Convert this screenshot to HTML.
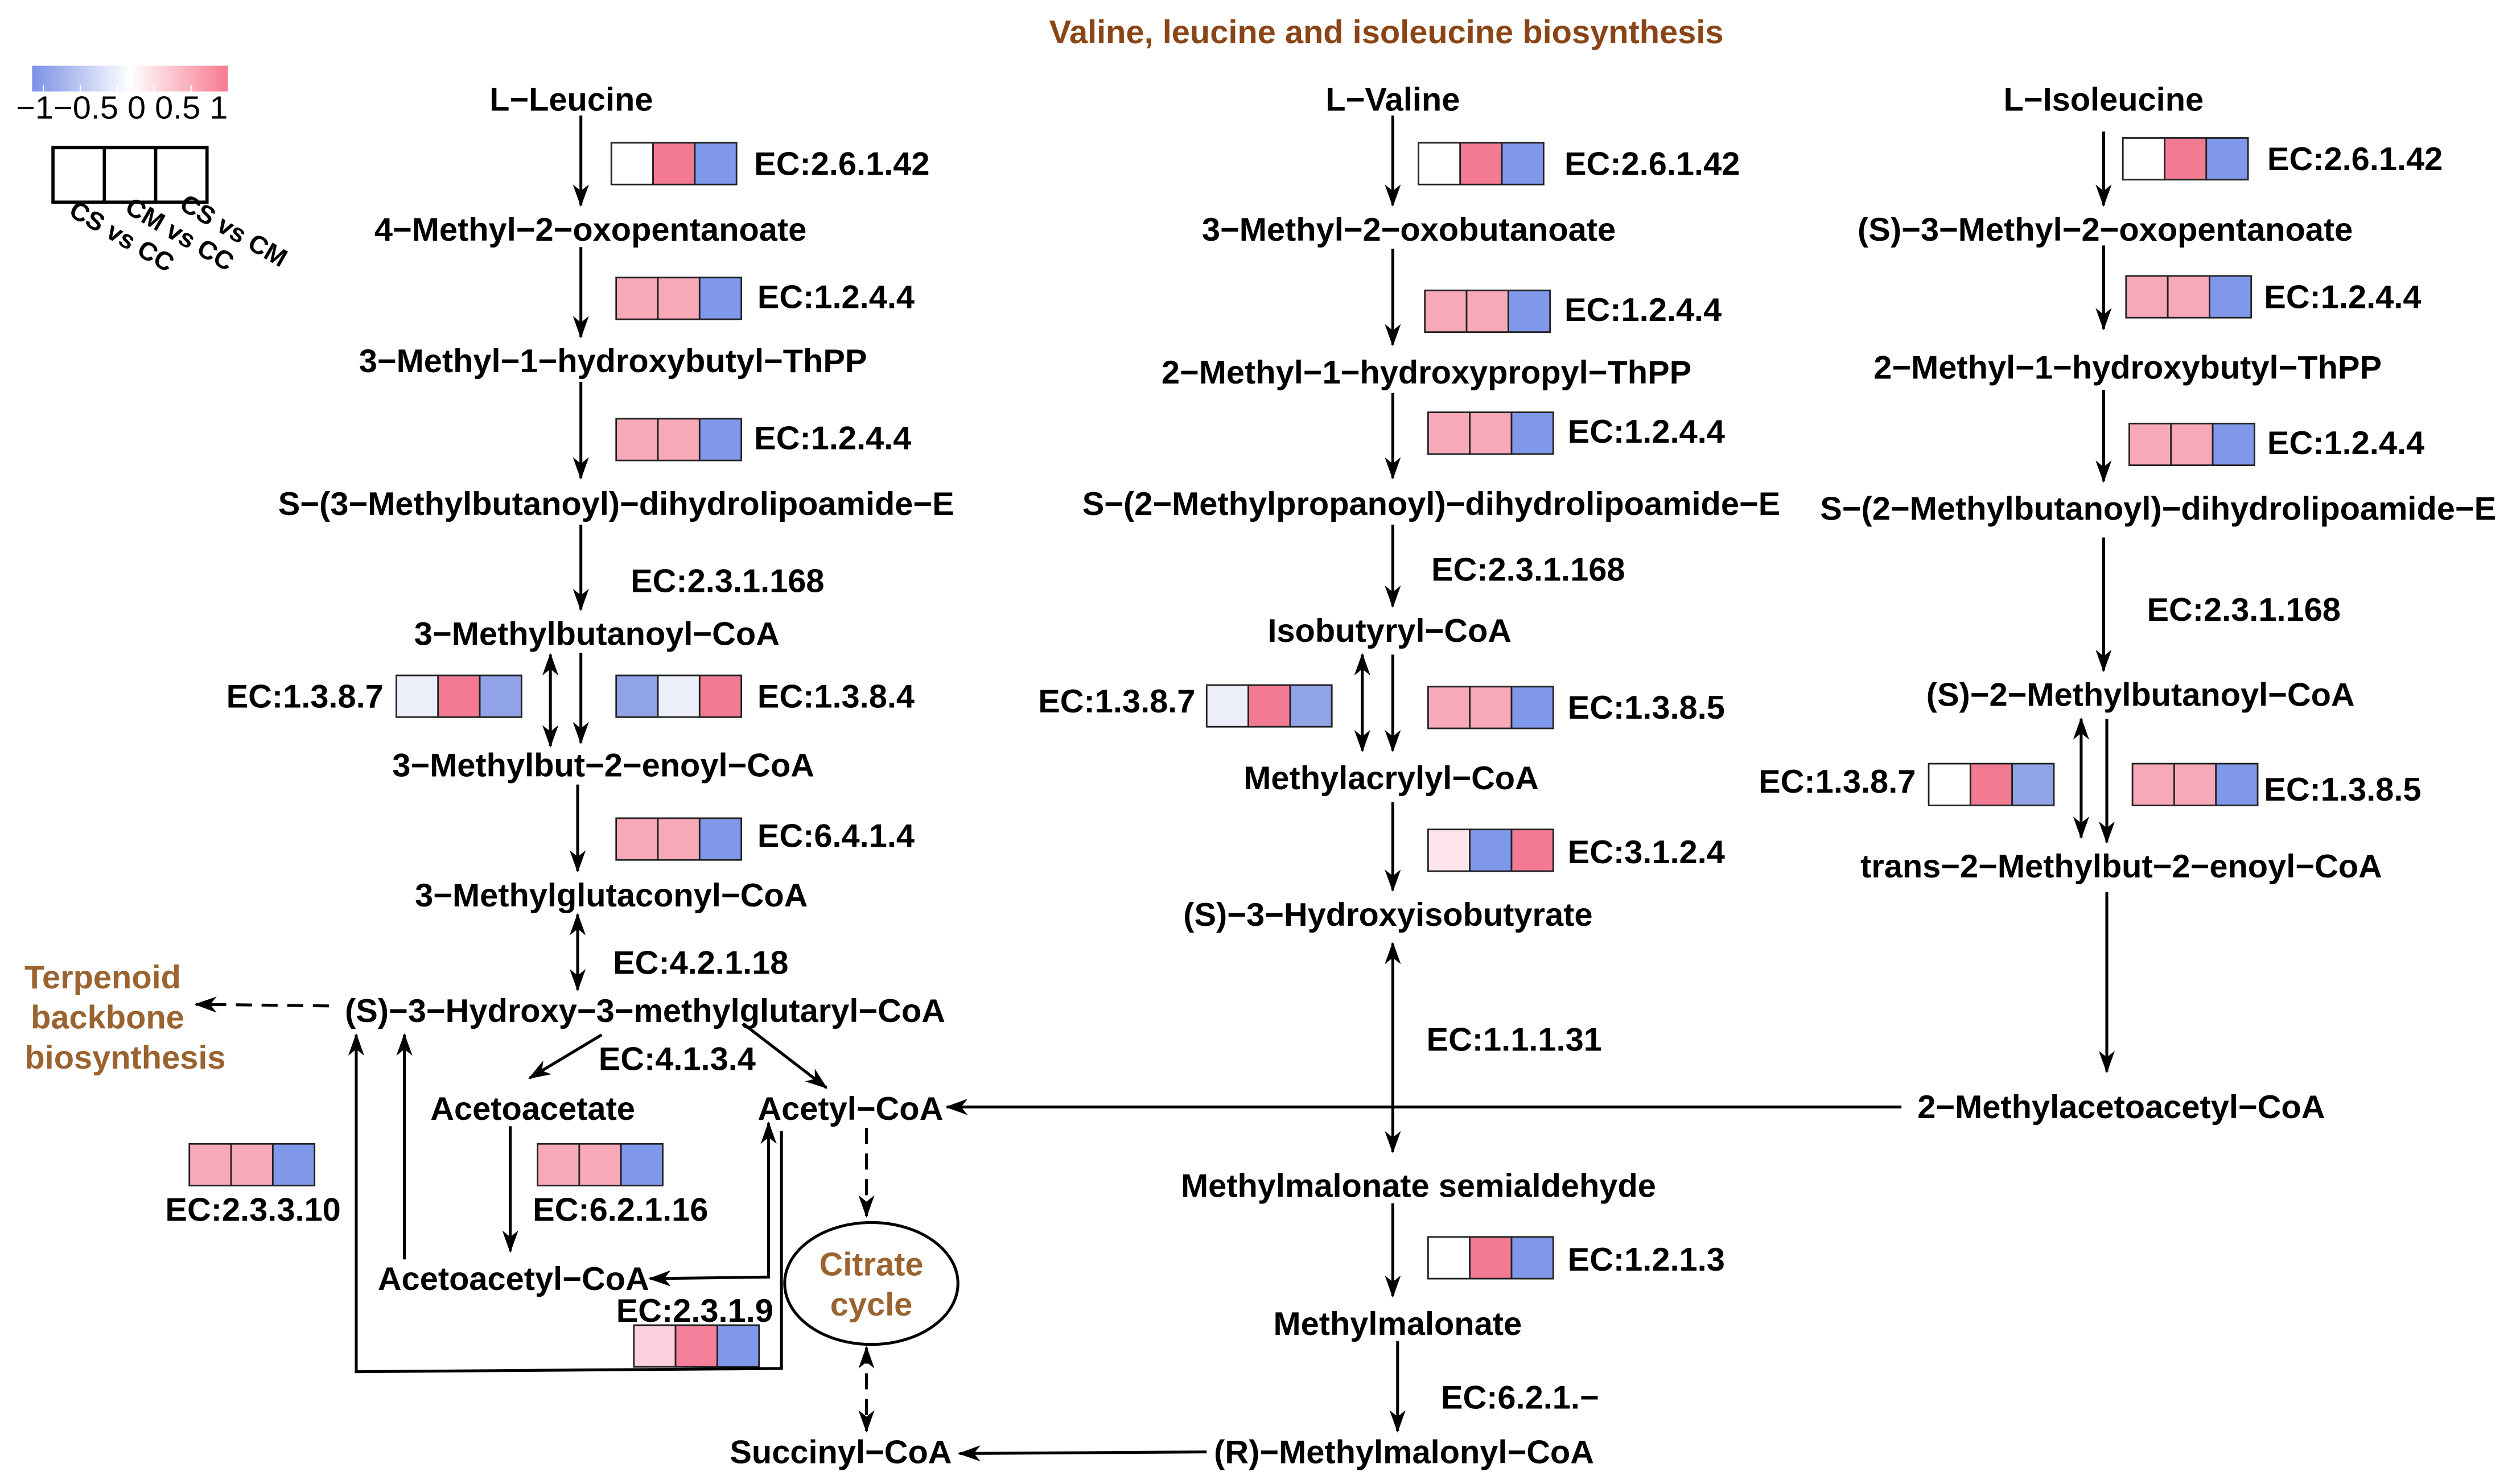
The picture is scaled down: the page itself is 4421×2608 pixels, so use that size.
<!DOCTYPE html>
<html><head><meta charset="utf-8"><style>
html,body{margin:0;padding:0;background:#fff;}
svg{display:block;}
text{font-family:"Liberation Sans",sans-serif;font-weight:bold;font-size:20.5px;fill:#000;}
.m{text-anchor:middle;}
.br{fill:#9a6330;}
text.s{font-size:16px;}
</style></head><body>
<svg width="4421" height="2608" viewBox="0 0 1568 925" xmlns="http://www.w3.org/2000/svg">
<defs>
<marker id="a" viewBox="0 0 14 10" refX="13" refY="5" markerWidth="14" markerHeight="10" markerUnits="userSpaceOnUse" orient="auto-start-reverse">
<path d="M0,0 L14,5 L0,10 L4,5 Z" fill="#000"/></marker>
<linearGradient id="g" x1="0" x2="1"><stop offset="0" stop-color="#7b91e6"/><stop offset="0.5" stop-color="#fff"/><stop offset="1" stop-color="#f77a90"/></linearGradient>
</defs>
<rect width="1568" height="925" fill="#fff"/>
<text class="m" x="864" y="27" style="fill:#8a4516">Valine, leucine and isoleucine biosynthesis</text>

<!-- legend -->
<rect x="20" y="41" width="122" height="16" fill="url(#g)"/>
<g stroke="#fff" stroke-width="0.8"><line x1="27" y1="53" x2="27" y2="57"/><line x1="50" y1="53" x2="50" y2="57"/><line x1="73" y1="53" x2="73" y2="57"/><line x1="96" y1="53" x2="96" y2="57"/><line x1="119" y1="53" x2="119" y2="57"/></g>
<text x="10" y="74" style="font-weight:normal;font-size:20px" textLength="132" lengthAdjust="spacingAndGlyphs">−1−0.5 0 0.5 1</text>
<g fill="#fff" stroke="#000" stroke-width="2"><rect x="33" y="92" width="32" height="34"/><rect x="65" y="92" width="32" height="34"/><rect x="97" y="92" width="32" height="34"/></g>
<text class="s" transform="translate(42,134) rotate(30)">CS vs CC</text><text class="s" transform="translate(77,132) rotate(30)">CM vs CC</text><text class="s" transform="translate(111,130) rotate(30)">CS vs CM</text>

<!-- heatmaps -->
<g stroke="#222" stroke-width="1">
<rect x="381" y="89" width="26" height="26" fill="#fff"/><rect x="407" y="89" width="26" height="26" fill="#f27a93"/><rect x="433" y="89" width="26" height="26" fill="#7f98ea"/>
<rect x="384" y="173" width="26" height="26" fill="#f8a9b8"/><rect x="410" y="173" width="26" height="26" fill="#f8a9b8"/><rect x="436" y="173" width="26" height="26" fill="#7f98ea"/>
<rect x="384" y="261" width="26" height="26" fill="#f8a9b8"/><rect x="410" y="261" width="26" height="26" fill="#f8a9b8"/><rect x="436" y="261" width="26" height="26" fill="#7f98ea"/>
<rect x="247" y="421" width="26" height="26" fill="#eceef9"/><rect x="273" y="421" width="26" height="26" fill="#f27a93"/><rect x="299" y="421" width="26" height="26" fill="#8fa3e6"/>
<rect x="384" y="421" width="26" height="26" fill="#8fa3e6"/><rect x="410" y="421" width="26" height="26" fill="#eceef9"/><rect x="436" y="421" width="26" height="26" fill="#f27a93"/>
<rect x="384" y="510" width="26" height="26" fill="#f8a9b8"/><rect x="410" y="510" width="26" height="26" fill="#f8a9b8"/><rect x="436" y="510" width="26" height="26" fill="#7f98ea"/>
<rect x="118" y="713" width="26" height="26" fill="#f8a9b8"/><rect x="144" y="713" width="26" height="26" fill="#f8a9b8"/><rect x="170" y="713" width="26" height="26" fill="#7f98ea"/>
<rect x="335" y="713" width="26" height="26" fill="#f8a9b8"/><rect x="361" y="713" width="26" height="26" fill="#f8a9b8"/><rect x="387" y="713" width="26" height="26" fill="#7f98ea"/>
<rect x="395" y="826" width="26" height="26" fill="#fdd0de"/><rect x="421" y="826" width="26" height="26" fill="#f5809c"/><rect x="447" y="826" width="26" height="26" fill="#7f98ea"/>
<rect x="884" y="89" width="26" height="26" fill="#fff"/><rect x="910" y="89" width="26" height="26" fill="#f27a93"/><rect x="936" y="89" width="26" height="26" fill="#7f98ea"/>
<rect x="888" y="181" width="26" height="26" fill="#f8a9b8"/><rect x="914" y="181" width="26" height="26" fill="#f8a9b8"/><rect x="940" y="181" width="26" height="26" fill="#7f98ea"/>
<rect x="890" y="257" width="26" height="26" fill="#f8a9b8"/><rect x="916" y="257" width="26" height="26" fill="#f8a9b8"/><rect x="942" y="257" width="26" height="26" fill="#7f98ea"/>
<rect x="752" y="427" width="26" height="26" fill="#eceef9"/><rect x="778" y="427" width="26" height="26" fill="#f27a93"/><rect x="804" y="427" width="26" height="26" fill="#8fa3e6"/>
<rect x="890" y="428" width="26" height="26" fill="#f8a9b8"/><rect x="916" y="428" width="26" height="26" fill="#f8a9b8"/><rect x="942" y="428" width="26" height="26" fill="#7f98ea"/>
<rect x="890" y="517" width="26" height="26" fill="#fde4ea"/><rect x="916" y="517" width="26" height="26" fill="#7f98ea"/><rect x="942" y="517" width="26" height="26" fill="#f27a93"/>
<rect x="890" y="771" width="26" height="26" fill="#fff"/><rect x="916" y="771" width="26" height="26" fill="#f27a93"/><rect x="942" y="771" width="26" height="26" fill="#7f98ea"/>
<rect x="1323" y="86" width="26" height="26" fill="#fff"/><rect x="1349" y="86" width="26" height="26" fill="#f27a93"/><rect x="1375" y="86" width="26" height="26" fill="#7f98ea"/>
<rect x="1325" y="172" width="26" height="26" fill="#f8a9b8"/><rect x="1351" y="172" width="26" height="26" fill="#f8a9b8"/><rect x="1377" y="172" width="26" height="26" fill="#7f98ea"/>
<rect x="1327" y="264" width="26" height="26" fill="#f8a9b8"/><rect x="1353" y="264" width="26" height="26" fill="#f8a9b8"/><rect x="1379" y="264" width="26" height="26" fill="#7f98ea"/>
<rect x="1202" y="476" width="26" height="26" fill="#fff"/><rect x="1228" y="476" width="26" height="26" fill="#f27a93"/><rect x="1254" y="476" width="26" height="26" fill="#8fa3e6"/>
<rect x="1329" y="476" width="26" height="26" fill="#f8a9b8"/><rect x="1355" y="476" width="26" height="26" fill="#f8a9b8"/><rect x="1381" y="476" width="26" height="26" fill="#7f98ea"/>
</g>

<!-- arrows -->
<g stroke="#000" stroke-width="1.8" fill="none">
<line x1="362" y1="72" x2="362" y2="128" marker-end="url(#a)"/>
<line x1="362" y1="154" x2="362" y2="210" marker-end="url(#a)"/>
<line x1="362" y1="238" x2="362" y2="298" marker-end="url(#a)"/>
<line x1="362" y1="327" x2="362" y2="380" marker-end="url(#a)"/>
<line x1="343" y1="408" x2="343" y2="465" marker-start="url(#a)" marker-end="url(#a)"/>
<line x1="362" y1="407" x2="362" y2="463" marker-end="url(#a)"/>
<line x1="360" y1="489" x2="360" y2="543" marker-end="url(#a)"/>
<line x1="360" y1="570" x2="360" y2="617" marker-start="url(#a)" marker-end="url(#a)"/>
<line x1="375" y1="645" x2="330" y2="672" marker-end="url(#a)"/>
<line x1="463" y1="638" x2="515" y2="678" marker-end="url(#a)"/>
<line x1="318" y1="702" x2="318" y2="780" marker-end="url(#a)"/>
<polyline points="405,797 479,796 479,700" marker-start="url(#a)" marker-end="url(#a)"/>
<line x1="252" y1="785" x2="252" y2="645" marker-end="url(#a)"/>
<polyline points="487,705 487,853 222,855 222,645" marker-end="url(#a)"/>
<line x1="205" y1="627" x2="122" y2="626" stroke-dasharray="10,6" marker-end="url(#a)"/>
<line x1="540" y1="703" x2="540" y2="758" stroke-dasharray="10,6" marker-end="url(#a)"/>
<line x1="540" y1="840" x2="540" y2="892" stroke-dasharray="10,6" marker-start="url(#a)" marker-end="url(#a)"/>
<line x1="868" y1="72" x2="868" y2="128" marker-end="url(#a)"/>
<line x1="868" y1="155" x2="868" y2="215" marker-end="url(#a)"/>
<line x1="868" y1="245" x2="868" y2="298" marker-end="url(#a)"/>
<line x1="868" y1="327" x2="868" y2="378" marker-end="url(#a)"/>
<line x1="849" y1="408" x2="849" y2="468" marker-start="url(#a)" marker-end="url(#a)"/>
<line x1="868" y1="408" x2="868" y2="468" marker-end="url(#a)"/>
<line x1="868" y1="500" x2="868" y2="555" marker-end="url(#a)"/>
<line x1="868" y1="588" x2="868" y2="718" marker-start="url(#a)" marker-end="url(#a)"/>
<line x1="868" y1="750" x2="868" y2="808" marker-end="url(#a)"/>
<line x1="871" y1="836" x2="871" y2="892" marker-end="url(#a)"/>
<line x1="752" y1="905" x2="598" y2="906" marker-end="url(#a)"/>
<line x1="1185" y1="690" x2="590" y2="690" marker-end="url(#a)"/>
<line x1="1311" y1="82" x2="1311" y2="128" marker-end="url(#a)"/>
<line x1="1311" y1="153" x2="1311" y2="205" marker-end="url(#a)"/>
<line x1="1311" y1="243" x2="1311" y2="300" marker-end="url(#a)"/>
<line x1="1311" y1="335" x2="1311" y2="418" marker-end="url(#a)"/>
<line x1="1297" y1="448" x2="1297" y2="522" marker-start="url(#a)" marker-end="url(#a)"/>
<line x1="1313" y1="448" x2="1313" y2="525" marker-end="url(#a)"/>
<line x1="1313" y1="556" x2="1313" y2="668" marker-end="url(#a)"/>
</g>
<ellipse cx="543" cy="800" rx="54" ry="38" fill="#fff" stroke="#000" stroke-width="1.8"/>
<text class="m br" x="543" y="795">Citrate</text><text class="m br" x="543" y="820">cycle</text>
<text class="m br" x="64" y="616">Terpenoid</text><text class="m br" x="67" y="641">backbone</text><text class="m br" x="78" y="666">biosynthesis</text>

<!-- compounds -->
<text class="m" x="356" y="69">L−Leucine</text>
<text class="m" x="368" y="150">4−Methyl−2−oxopentanoate</text>
<text class="m" x="382" y="232">3−Methyl−1−hydroxybutyl−ThPP</text>
<text class="m" x="384" y="321">S−(3−Methylbutanoyl)−dihydrolipoamide−E</text>
<text class="m" x="372" y="402">3−Methylbutanoyl−CoA</text>
<text class="m" x="376" y="484">3−Methylbut−2−enoyl−CoA</text>
<text class="m" x="381" y="565">3−Methylglutaconyl−CoA</text>
<text class="m" x="402" y="637">(S)−3−Hydroxy−3−methylglutaryl−CoA</text>
<text class="m" x="332" y="698">Acetoacetate</text>
<text class="m" x="530" y="698">Acetyl−CoA</text>
<text class="m" x="320" y="804">Acetoacetyl−CoA</text>
<text class="m" x="524" y="912">Succinyl−CoA</text>
<text class="m" x="868" y="69">L−Valine</text>
<text class="m" x="878" y="150">3−Methyl−2−oxobutanoate</text>
<text class="m" x="889" y="239">2−Methyl−1−hydroxypropyl−ThPP</text>
<text class="m" x="892" y="321">S−(2−Methylpropanoyl)−dihydrolipoamide−E</text>
<text class="m" x="866" y="400">Isobutyryl−CoA</text>
<text class="m" x="867" y="492">Methylacrylyl−CoA</text>
<text class="m" x="865" y="577">(S)−3−Hydroxyisobutyrate</text>
<text class="m" x="884" y="746">Methylmalonate semialdehyde</text>
<text class="m" x="871" y="832">Methylmalonate</text>
<text class="m" x="875" y="912">(R)−Methylmalonyl−CoA</text>
<text class="m" x="1311" y="69">L−Isoleucine</text>
<text class="m" x="1312" y="150">(S)−3−Methyl−2−oxopentanoate</text>
<text class="m" x="1326" y="236">2−Methyl−1−hydroxybutyl−ThPP</text>
<text class="m" x="1345" y="324">S−(2−Methylbutanoyl)−dihydrolipoamide−E</text>
<text class="m" x="1334" y="440">(S)−2−Methylbutanoyl−CoA</text>
<text class="m" x="1322" y="547">trans−2−Methylbut−2−enoyl−CoA</text>
<text class="m" x="1322" y="697">2−Methylacetoacetyl−CoA</text>
<!-- EC labels -->
<text x="470" y="109">EC:2.6.1.42</text>
<text x="472" y="192">EC:1.2.4.4</text>
<text x="470" y="280">EC:1.2.4.4</text>
<text x="393" y="369">EC:2.3.1.168</text>
<text x="141" y="441">EC:1.3.8.7</text>
<text x="472" y="441">EC:1.3.8.4</text>
<text x="472" y="528">EC:6.4.1.4</text>
<text x="382" y="607">EC:4.2.1.18</text>
<text x="373" y="667">EC:4.1.3.4</text>
<text x="103" y="761">EC:2.3.3.10</text>
<text x="332" y="761">EC:6.2.1.16</text>
<text x="384" y="824">EC:2.3.1.9</text>
<text x="975" y="109">EC:2.6.1.42</text>
<text x="975" y="200">EC:1.2.4.4</text>
<text x="977" y="276">EC:1.2.4.4</text>
<text x="892" y="362">EC:2.3.1.168</text>
<text x="647" y="444">EC:1.3.8.7</text>
<text x="977" y="448">EC:1.3.8.5</text>
<text x="977" y="538">EC:3.1.2.4</text>
<text x="889" y="655">EC:1.1.1.31</text>
<text x="977" y="792">EC:1.2.1.3</text>
<text x="898" y="878">EC:6.2.1.−</text>
<text x="1413" y="106">EC:2.6.1.42</text>
<text x="1411" y="192">EC:1.2.4.4</text>
<text x="1413" y="283">EC:1.2.4.4</text>
<text x="1338" y="387">EC:2.3.1.168</text>
<text x="1096" y="494">EC:1.3.8.7</text>
<text x="1411" y="499">EC:1.3.8.5</text>
</svg>
</body></html>
